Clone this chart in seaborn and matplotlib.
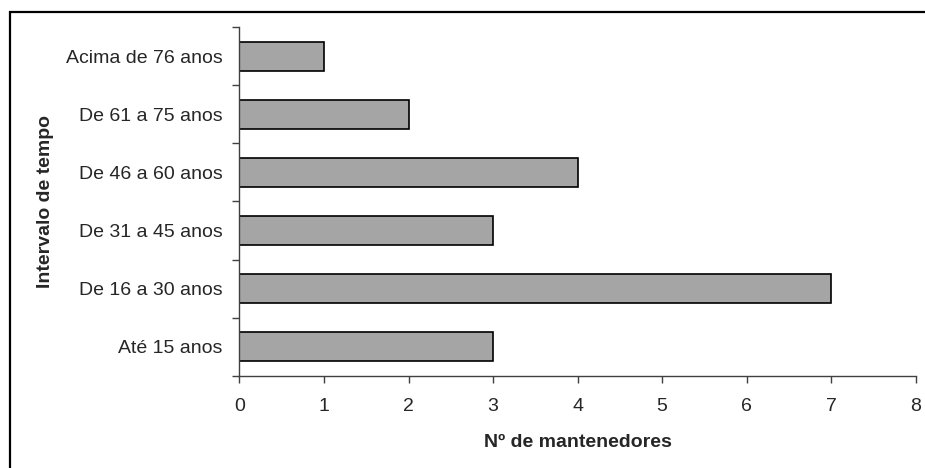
import matplotlib
matplotlib.use("Agg")
import matplotlib.pyplot as plt
import seaborn as sns
import pandas as pd
from matplotlib.patches import Rectangle

# Age ranges, top to bottom
categories = ["Acima de 76 anos", "De 61 a 75 anos", "De 46 a 60 anos",
              "De 31 a 45 anos", "De 16 a 30 anos", "Até 15 anos"]
counts = [1, 2, 4, 3, 7, 3]
x_ticks = [0, 1, 2, 3, 4, 5, 6, 7, 8]

df = pd.DataFrame({"faixa": categories, "n": counts})

sns.set_theme(style="white")
plt.rcParams["font.family"] = ["Liberation Sans", "DejaVu Sans"]

fig = plt.figure(figsize=(9.25, 4.68), dpi=100)
ax = fig.add_axes([0.2589, 0.1966, 0.990 - 0.2589, 0.9423 - 0.1966])

sns.barplot(data=df, x="n", y="faixa", order=categories, orient="h",
            color="#a5a5a5", saturation=1, width=0.5,
            edgecolor="black", linewidth=1.2, ax=ax)

ax.set_xlim(0, 8)
ax.set_ylim(len(categories) - 0.5, -0.5)
ax.set_xticks(x_ticks)
ax.set_xticklabels([str(t) for t in x_ticks], fontsize=14)
ax.set_yticks([i - 0.5 for i in range(len(categories) + 1)], minor=False)
ax.set_yticklabels([])
ax.set_yticks(range(len(categories)), minor=True)
ax.set_yticklabels(categories, minor=True, fontsize=14)

ax.tick_params(axis="y", which="major", direction="out", length=5, width=1,
               color="#404040", left=True)
ax.tick_params(axis="y", which="minor", length=0, pad=12)
ax.tick_params(axis="x", which="major", direction="out", length=5, width=1,
               color="#404040", bottom=True, pad=11)

for side in ["top", "right"]:
    ax.spines[side].set_visible(False)
for side in ["left", "bottom"]:
    ax.spines[side].set_color("#404040")
    ax.spines[side].set_linewidth(1)

ax.set_xlabel("Nº de mantenedores", fontsize=14, fontweight="bold")
ax.set_ylabel("Intervalo de tempo", fontsize=14, fontweight="bold")
ax.yaxis.set_label_coords(-0.274, 0.5)
ax.xaxis.set_label_coords(0.5, -0.165)

# Chart area frame
fig.patches.append(Rectangle((9.5 / 925, -0.1), 1.2, (1 - 12 / 468) + 0.1,
                             transform=fig.transFigure, fill=False,
                             edgecolor="black", linewidth=1.6, zorder=10))

fig.savefig("out.png", dpi=100)
